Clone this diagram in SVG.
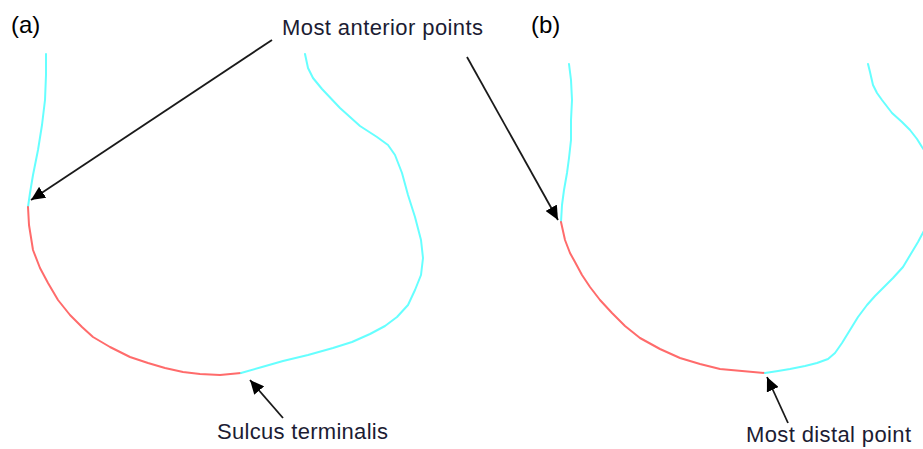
<svg xmlns="http://www.w3.org/2000/svg" width="923" height="449" viewBox="0 0 923 449">
  <style>
    .panel-label { font-family: "Liberation Sans", Arial, sans-serif; font-size: 24px; fill: #000; }
    .label { font-family: "Liberation Sans", Arial, sans-serif; font-size: 22px; fill: #1c1c33; }
    .cyan { fill: none; stroke: #66ffff; stroke-width: 2; stroke-linejoin: round; stroke-linecap: round; }
    .red { fill: none; stroke: #ff6b6b; stroke-width: 2; stroke-linejoin: round; stroke-linecap: round; }
    .arrow { fill: none; stroke: #1a1a1a; stroke-width: 1.8; marker-end: url(#head); }
  </style>
  <defs>
    <marker id="head" markerUnits="userSpaceOnUse" markerWidth="15" markerHeight="13" refX="14" refY="6.5" orient="auto">
      <path d="M0,0 L14,6.5 L0,13 Z" fill="#000"/>
    </marker>
  </defs>
  <rect width="923" height="449" fill="#fff"/>

  <!-- panel (a): outline -->
  <g id="panel-a">
    <text class="panel-label" x="11" y="33">(a)</text>
    <path class="cyan" d="M46,54 L46,75 L45,100 L42,125 L38,150 L33,175 L30,193 L28,207"/>
    <path class="red" d="M28,207 L29,225 L33,250 L40,268 L48,283 L58,300 L70,315 L82,327 L93,337 L110,347 L130,357 L148,363 L165,368 L183,372 L200,374 L220,375 L241,373"/>
    <path class="cyan" d="M241,373 L262,367 L283,361 L308,355 L333,348 L352,342 L370,334 L385,326 L397,317 L408,305 L415,290 L421,275 L423,258 L421,240 L415,217 L408,195 L402,173 L395,155 L388,145 L377,137 L360,126 L340,108 L322,89 L313,78 L308,68 L305,54"/>
  </g>

  <!-- panel (b): outline -->
  <g id="panel-b">
    <text class="panel-label" x="531" y="33">(b)</text>
    <path class="cyan" d="M569,64 L571,80 L572,100 L571,120 L571,140 L569,158 L567,173 L564,190 L562,205 L561,222"/>
    <path class="red" d="M561,222 L565,240 L570,253 L575,262 L582,275 L590,287 L600,300 L612,313 L625,326 L640,338 L660,349 L680,358 L700,364 L720,369 L742,371 L765,373"/>
    <path class="cyan" d="M765,373 L778,371 L790,369 L805,366 L817,363 L828,359 L835,353 L842,343 L850,330 L858,317 L867,305 L875,296 L883,288 L893,278 L903,267 L912,252 L918,242 L925,229"/>
    <path class="cyan" d="M868,64 L870,72 L873,85 L877,93 L882,100 L892,113 L902,122 L910,130 L917,139 L922,147 L926,153"/>
  </g>

  <!-- labels -->
  <g id="label-anterior">
    <text class="label" x="282" y="35" textLength="201" lengthAdjust="spacing">Most anterior points</text>
  </g>
  <g id="label-sulcus">
    <text class="label" x="217" y="439" textLength="171" lengthAdjust="spacing">Sulcus terminalis</text>
  </g>
  <g id="label-distal">
    <text class="label" x="746" y="442" textLength="165" lengthAdjust="spacing">Most distal point</text>
  </g>

  <!-- connectors -->
  <g id="connectors">
    <line class="arrow" x1="272" y1="40" x2="31" y2="200"/>
    <line class="arrow" x1="467" y1="57" x2="558" y2="220"/>
    <line class="arrow" x1="283" y1="418" x2="250" y2="380"/>
    <line class="arrow" x1="788" y1="423" x2="767" y2="377"/>
  </g>
</svg>
